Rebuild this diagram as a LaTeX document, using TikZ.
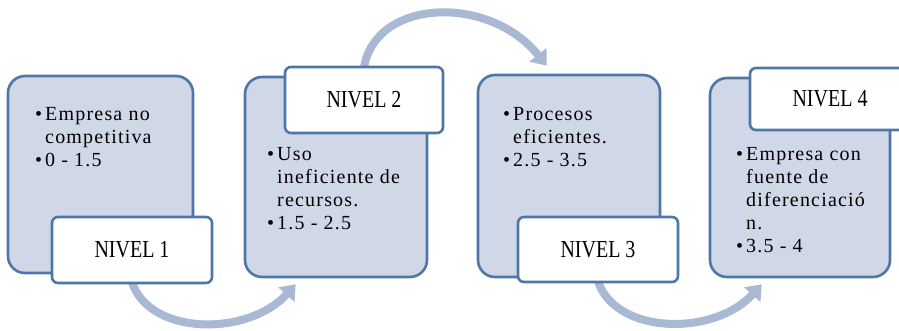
\documentclass[tikz,border=0pt]{standalone}
\usepackage{fontspec}
\setmainfont{Liberation Serif}
\usepackage{graphicx}
\usetikzlibrary{arrows.meta,calc,backgrounds}
\definecolor{boxfill}{HTML}{D0D8E7}
\definecolor{boxline}{HTML}{4E77A8}
\definecolor{arrowc}{HTML}{A9B9D3}
\newcommand{\vtxt}[1]{\scalebox{1}[1.22]{#1}}
\newcommand{\blist}[1]{{\fontsize{20}{23}\selectfont\addfontfeature{LetterSpace=6}\renewcommand{\arraystretch}{1}\begin{tabular}[t]{@{}p{10pt}@{}l@{}}#1\end{tabular}}}
\begin{document}
\begin{tikzpicture}[x=1pt,y=1pt,
  bigbox/.style={draw=boxline,fill=boxfill,line width=2.6pt,rounded corners=17pt,inner sep=0pt},
  lblbox/.style={draw=boxline,fill=white,line width=2.6pt,rounded corners=6pt,inner sep=0pt,font=\fontsize{20}{24}\selectfont},
  txt/.style={anchor=base west,inner sep=0pt},
  flow/.style={draw=arrowc,line width=8pt,-{Triangle[width=21pt,length=14pt]}}]
\useasboundingbox (0,0) rectangle (899,330);
\clip (0,0) rectangle (899,330);
% boxes
\node[bigbox,minimum width=185pt,minimum height=197pt] (b1) at (100.5,155.5) {};
\node[bigbox,minimum width=182pt,minimum height=200pt] (b2) at (336,153) {};
\node[bigbox,minimum width=182pt,minimum height=202pt] (b3) at (569,154) {};
\node[bigbox,minimum width=180pt,minimum height=199pt] (b4) at (800,152.5) {};
% labels
\node[lblbox,minimum width=160pt,minimum height=66pt] (l1) at (132,80) {\vtxt{NIVEL 1}};
\node[lblbox,minimum width=158pt,minimum height=66pt] (l2) at (364,230) {\vtxt{NIVEL 2}};
\node[lblbox,minimum width=160pt,minimum height=65pt] (l3) at (598,80.5) {\vtxt{NIVEL 3}};
\node[lblbox,minimum width=160pt,minimum height=62pt] (l4) at (830,231) {\vtxt{NIVEL 4}};
% texts
\node[txt] (t1) at (35,210) {\blist{\textbullet & Empresa no\\ & competitiva\\ \textbullet & 0 - 1.5}};
\node[txt] (t2) at (267,170) {\blist{\textbullet & Uso\\ & ineficiente de\\ & recursos.\\ \textbullet & 1.5 - 2.5}};
\node[txt] (t3) at (503,210) {\blist{\textbullet & Procesos\\ & eficientes.\\ \textbullet & 2.5 - 3.5}};
\node[txt] (t4) at (736,170) {\blist{\textbullet & Empresa con\\ & fuente de\\ & diferenciació\\ & n.\\ \textbullet & 3.5 - 4}};
% connectors (behind boxes)
\coordinate (s1) at ($(l1.south)+(0,2)$);
\coordinate (s2) at ($(l2.north)+(0,-2)$);
\coordinate (s3) at ($(l3.south)+(0,2)$);
\coordinate (e1) at ($(b2.south west)+(52,-6)$);
\coordinate (e2) at ($(b3.north west)+(70,8)$);
\coordinate (e3) at ($(b4.south west)+(53,-6)$);
\begin{scope}[on background layer]
\fill[white] (0,0) rectangle (899,330);
\draw[flow] (s1) .. controls ($(s1)+(18,-54)$) and ($(e1)+(-47,-52)$) .. (e1);
\draw[flow] (s2) .. controls ($(s2)+(11,69)$) and ($(e2)+(-58,72)$) .. (e2);
\draw[flow] (s3) .. controls ($(s3)+(18,-54)$) and ($(e3)+(-47,-52)$) .. (e3);
\end{scope}
\end{tikzpicture}
\end{document}
